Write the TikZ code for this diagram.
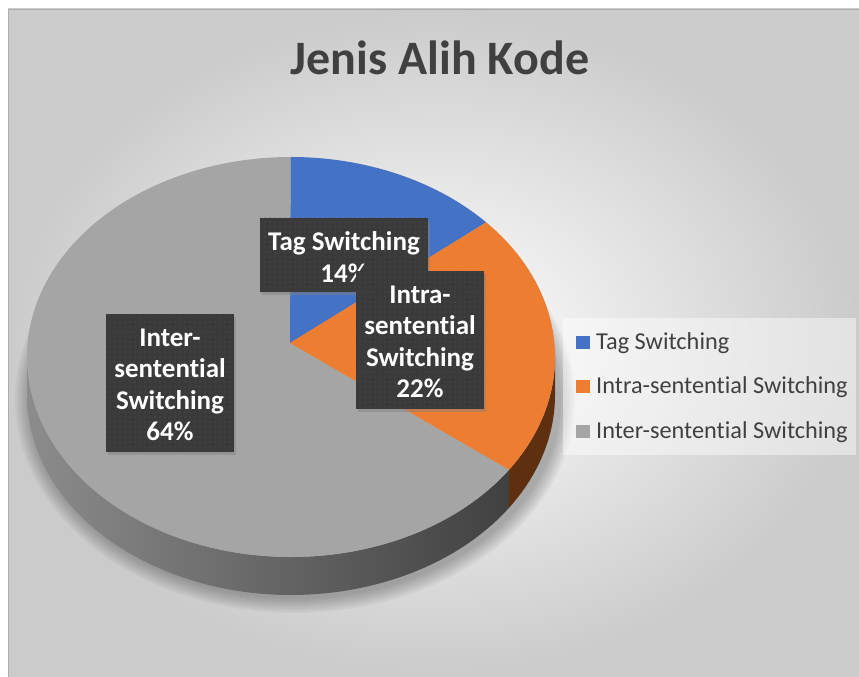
\documentclass[tikz,border=0pt]{standalone}
\usepackage{fontspec}
\setmainfont{Carlito}[Ligatures=NoCommon]
\usetikzlibrary{shadows,patterns.meta}

\definecolor{tagblue}{HTML}{4472C4}
\definecolor{intraorange}{HTML}{ED7D31}
\definecolor{intergray}{HTML}{A5A5A5}
\definecolor{orangeside}{HTML}{5E300F}
\definecolor{graysideL}{HTML}{8C8C8C}
\definecolor{graysideD}{HTML}{444444}
\definecolor{labelbg}{HTML}{3A3A3A}
\definecolor{labeldot}{HTML}{565656}
\definecolor{textgray}{HTML}{404040}
\definecolor{frameedge}{HTML}{CBCBCB}

\begin{document}
\begin{tikzpicture}[x=1pt,y=1pt,
  pieradius/.style={x radius=264pt, y radius=200pt},
  datalabel/.style={fill=labelbg, text=white, align=center, inner sep=0pt,
    drop shadow={shadow xshift=2pt, shadow yshift=-3pt, opacity=0.45}},
  labeltext/.style={align=center, text=white, inner sep=0pt,
    font=\bfseries\fontsize{27}{31.5}\selectfont},
  dotted overlay/.style={pattern={Dots[distance=5pt, radius=0.55pt]}, pattern color=labeldot},
  legendkey/.style={minimum width=14pt, minimum height=13pt, inner sep=0pt},
  legendtext/.style={anchor=base west, inner sep=0pt, text=textgray, font=\fontsize{24.3}{28}\selectfont}]

\useasboundingbox (0,0) rectangle (859,677);
\fill[white] (0,0) rectangle (859,677);

% chart area with soft radial light
\shade[inner color=white, outer color=frameedge] (8,0) rectangle (859,668);
\draw[frameedge!85!black, line width=0.8pt] (8,0) -- (8,668) -- (859,668);

% title
\node[anchor=base, text=textgray, inner sep=0pt, font=\bfseries\fontsize{48}{54}\selectfont] (title) at (440,602) {Jenis Alih Kode};

% soft shadow under the pie
\foreach \k in {0,...,7}{
  \fill[black, opacity=0.035] (295,278) ellipse[x radius={280-2*\k}, y radius={214-2*\k}];
}

% side walls of the pie
\shade[left color=graysideL, middle color=graysideD, right color=graysideD!95!black]
  (27,320) arc[start angle=180, end angle=325.7, pieradius] -- ++(0,-38)
  arc[start angle=325.7, end angle=180, pieradius] -- cycle;
\fill[orangeside]
  (509.1,207.3) arc[start angle=325.7, end angle=360, pieradius] -- ++(0,-38)
  arc[start angle=360, end angle=325.7, pieradius] -- cycle;

% top faces of the slices
\coordinate (apex) at (290,334);
\fill[intergray] (apex) -- (509.1,207.3) arc[start angle=-34.3, end angle=-270, pieradius] -- cycle;
\fill[tagblue] (apex) -- (291,520) arc[start angle=90, end angle=42.3, pieradius] -- cycle;
\fill[intraorange] (apex) -- (486.3,454.6) arc[start angle=42.3, end angle=-34.3, pieradius] -- cycle;

% data labels
\node[datalabel, minimum width=168pt, minimum height=74pt] (lblTag) at (344,422) {};
\fill[dotted overlay] (lblTag.south west) rectangle (lblTag.north east);
\node[labeltext] (txtTag) at (344,420) {Tag Switching\\14\%};

\node[datalabel, minimum width=128pt, minimum height=138pt] (lblIntra) at (420,337) {};
\fill[dotted overlay] (lblIntra.south west) rectangle (lblIntra.north east);
\node[labeltext] (txtIntra) at (420,335) {Intra-\\sentential\\Switching\\22\%};

\node[datalabel, minimum width=128pt, minimum height=138pt] (lblInter) at (170,294) {};
\fill[dotted overlay] (lblInter.south west) rectangle (lblInter.north east);
\node[labeltext] (txtInter) at (170,292) {Inter-\\sentential\\Switching\\64\%};

% legend
\fill[white, opacity=0.45] (563,222) rectangle (856,359);
\node[legendkey, fill=tagblue] (keyTag) at (583,334.7) {};
\node[legendtext] (legTag) at (596,327.7) {Tag Switching};
\node[legendkey, fill=intraorange] (keyIntra) at (583,290.3) {};
\node[legendtext] (legIntra) at (596,283.7) {Intra-sentential Switching};
\node[legendkey, fill=intergray] (keyInter) at (583,245.3) {};
\node[legendtext] (legInter) at (596,238.7) {Inter-sentential Switching};
\end{tikzpicture}
\end{document}
